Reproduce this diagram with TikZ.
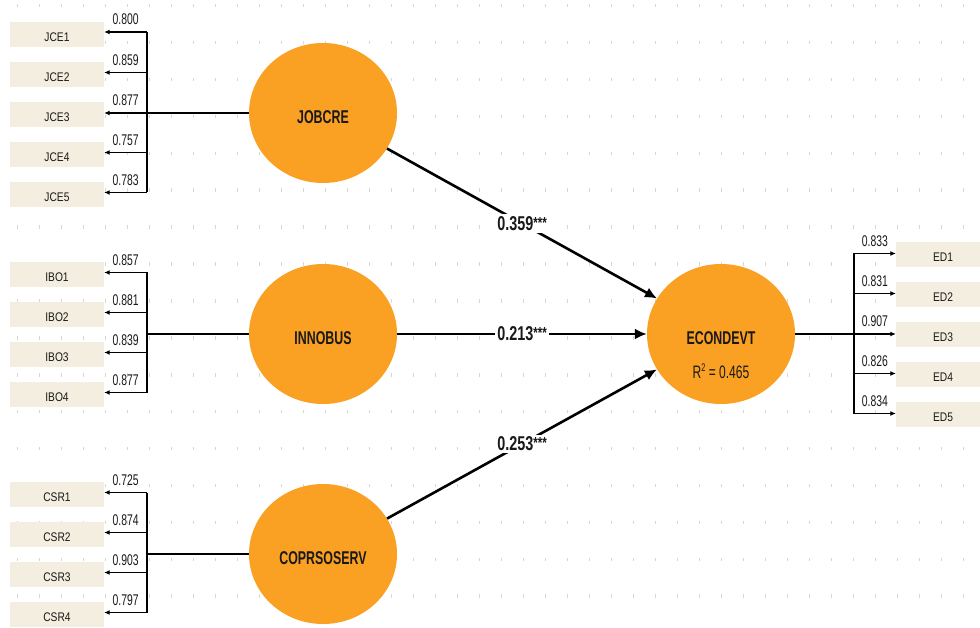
\documentclass[tikz,border=0pt]{standalone}
\usepackage{fontspec}
\setmainfont{Liberation Sans}
\newfontfamily\narrowfont[FakeStretch=0.67]{Liberation Sans}
\newfontfamily\coeffont[FakeStretch=0.72]{Liberation Sans}
\newfontfamily\indfont[FakeStretch=0.82]{Liberation Sans}
\usetikzlibrary{shapes.geometric,arrows.meta}
\definecolor{lvorange}{RGB}{250,160,35}
\definecolor{indbeige}{RGB}{243,238,224}
\definecolor{txt}{RGB}{25,25,25}
\definecolor{gridc}{RGB}{215,215,215}
\newcommand{\stars}{\raisebox{2pt}{\fontsize{16}{16}\selectfont ***}}
\begin{document}
\begin{tikzpicture}[x=1pt,y=-1pt,
  latent/.style={ellipse, fill=lvorange, minimum width=148pt, minimum height=140pt, inner sep=0pt,
    font=\narrowfont\fontsize{18.5}{18.5}\selectfont\bfseries, text=txt, text height=21pt, text depth=0pt},
  ind/.style={rectangle, fill=indbeige, minimum width=94pt, minimum height=25pt, inner sep=0pt,
    font=\indfont\fontsize{12.5}{12.5}\selectfont, text=txt, text height=13.5pt, text depth=0pt},
  ln/.style={line width=1.1pt, draw=black},
  ld/.style={line width=1.1pt, draw=black, -{Latex[length=5.5pt,width=5pt]}},
  lbl/.style={above=6.5pt, inner sep=0pt, font=\narrowfont\fontsize{15.5}{15.5}\selectfont, text=txt},
  pth/.style={line width=2.6pt, draw=black, -{Latex[length=12pt,width=11pt]}},
  pc/.style={fill=white, inner sep=2pt, font=\coeffont\fontsize{20}{20}\selectfont\bfseries, text=txt},
  r2lbl/.style={inner sep=0pt, font=\narrowfont\fontsize{18}{18}\selectfont, text=txt},
  gridmark/.style={draw=gridc, line width=0.8pt}
]
\useasboundingbox (0,0) rectangle (980,628);
\clip (0,0) rectangle (980,628);
\fill[white] (0,0) rectangle (980,628);
% background grid
\foreach \i in {0,...,44}{
  \foreach \j in {0,...,16}{
    \draw[gridmark] ({17+22*\i},{4+36.9*\j}) -- ++(0,3.5);
  }
}
% latent variables
\node[latent] (jobcre) at (323,113) {JOBCRE};
\node[latent] (innobus) at (323,334) {INNOBUS};
\node[latent] (coprsoserv) at (323,554) {COPRSOSERV};
\node[latent] (econdevt) at (721,334) {ECONDEVT};
\node[r2lbl] (r2) at (721,371) {R\raisebox{6.5pt}{\fontsize{11}{11}\selectfont 2} = 0.465};
% indicators JCE
\node[ind] (jce1) at (57,34.5) {JCE1};
\node[ind] (jce2) at (57,74.5) {JCE2};
\node[ind] (jce3) at (57,114.5) {JCE3};
\node[ind] (jce4) at (57,154.5) {JCE4};
\node[ind] (jce5) at (57,194.5) {JCE5};
% indicators IBO
\node[ind] (ibo1) at (57,274.5) {IBO1};
\node[ind] (ibo2) at (57,314.5) {IBO2};
\node[ind] (ibo3) at (57,354.5) {IBO3};
\node[ind] (ibo4) at (57,394.5) {IBO4};
% indicators CSR
\node[ind] (csr1) at (57,494.5) {CSR1};
\node[ind] (csr2) at (57,534.5) {CSR2};
\node[ind] (csr3) at (57,574.5) {CSR3};
\node[ind] (csr4) at (57,614.5) {CSR4};
% indicators ED
\node[ind] (ed1) at (943,254.5) {ED1};
\node[ind] (ed2) at (943,294.5) {ED2};
\node[ind] (ed3) at (943,334.5) {ED3};
\node[ind] (ed4) at (943,374.5) {ED4};
\node[ind] (ed5) at (943,414.5) {ED5};
% junction coordinates
\coordinate (jc1) at (147,32);
\coordinate (jc2) at (147,72.5);
\coordinate (jc3) at (147,113);
\coordinate (jc4) at (147,152.5);
\coordinate (jc5) at (147,192.5);
\coordinate (ib1) at (147,272.5);
\coordinate (ib2) at (147,312.5);
\coordinate (ibm) at (147,334);
\coordinate (ib3) at (147,352.5);
\coordinate (ib4) at (147,392.5);
\coordinate (cs1) at (147,492.5);
\coordinate (cs2) at (147,532.5);
\coordinate (csm) at (147,554);
\coordinate (cs3) at (147,572.5);
\coordinate (cs4) at (147,612.5);
\coordinate (ej1) at (854,253.5);
\coordinate (ej2) at (854,293.5);
\coordinate (ej3) at (854,334);
\coordinate (ej4) at (854,373.5);
\coordinate (ej5) at (854,413.5);
% JOBCRE loadings
\draw[ln] (jobcre) -- (jc3);
\draw[ln] (jc1) -- (jc5);
\draw[ld] (jc1) -- node[lbl]{0.800} (jc1 -| jce1.east);
\draw[ld] (jc2) -- node[lbl]{0.859} (jc2 -| jce2.east);
\draw[ld] (jc3) -- node[lbl]{0.877} (jc3 -| jce3.east);
\draw[ld] (jc4) -- node[lbl]{0.757} (jc4 -| jce4.east);
\draw[ld] (jc5) -- node[lbl]{0.783} (jc5 -| jce5.east);
% INNOBUS loadings
\draw[ln] (innobus) -- (ibm);
\draw[ln] (ib1) -- (ib4);
\draw[ld] (ib1) -- node[lbl]{0.857} (ib1 -| ibo1.east);
\draw[ld] (ib2) -- node[lbl]{0.881} (ib2 -| ibo2.east);
\draw[ld] (ib3) -- node[lbl]{0.839} (ib3 -| ibo3.east);
\draw[ld] (ib4) -- node[lbl]{0.877} (ib4 -| ibo4.east);
% COPRSOSERV loadings
\draw[ln] (coprsoserv) -- (csm);
\draw[ln] (cs1) -- (cs4);
\draw[ld] (cs1) -- node[lbl]{0.725} (cs1 -| csr1.east);
\draw[ld] (cs2) -- node[lbl]{0.874} (cs2 -| csr2.east);
\draw[ld] (cs3) -- node[lbl]{0.903} (cs3 -| csr3.east);
\draw[ld] (cs4) -- node[lbl]{0.797} (cs4 -| csr4.east);
% ECONDEVT loadings
\draw[ln] (econdevt) -- (ej3);
\draw[ln] (ej1) -- (ej5);
\draw[ld] (ej1) -- node[lbl]{0.833} (ej1 -| ed1.west);
\draw[ld] (ej2) -- node[lbl]{0.831} (ej2 -| ed2.west);
\draw[ld] (ej3) -- node[lbl]{0.907} (ej3 -| ed3.west);
\draw[ld] (ej4) -- node[lbl]{0.826} (ej4 -| ed4.west);
\draw[ld] (ej5) -- node[lbl]{0.834} (ej5 -| ed5.west);
% structural paths
\draw[pth] (jobcre) -- node[pc]{0.359\stars} (econdevt);
\draw[pth] (innobus) -- node[pc]{0.213\stars} (econdevt);
\draw[pth] (coprsoserv) -- node[pc]{0.253\stars} (econdevt);
\end{tikzpicture}
\end{document}
